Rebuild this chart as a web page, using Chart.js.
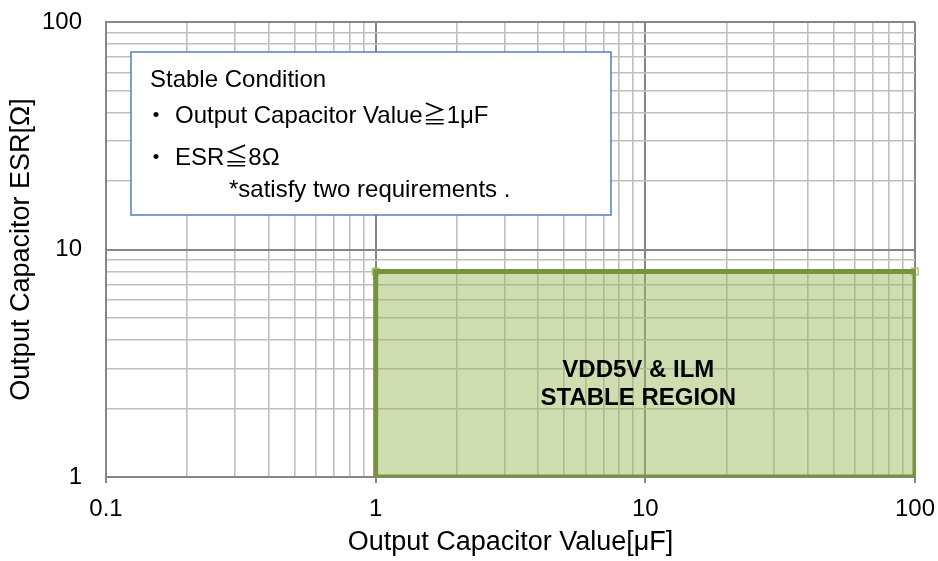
<!DOCTYPE html>
<html><head><meta charset="utf-8">
<script src="https://cdn.jsdelivr.net/npm/chart.js@4/dist/chart.umd.min.js"></script>
<style>html,body{margin:0;padding:0;background:#fff}#wrap{width:938px;height:561px}</style>
</head><body><div id="wrap"><canvas id="c" width="938" height="561"></canvas></div>
<script>
// ---- data ----
const xMajorTicks = [0.1, 1, 10, 100];
const xMajorLabels = ['0.1', '1', '10', '100'];
const yMajorTicks = [1, 10, 100];
const yMajorLabels = ['1', '10', '100'];
const minorMultipliers = [2, 3, 4, 5, 6, 7, 8, 9];

const capacitorBounds = [1, 100];   // μF, stable region x-range
const esrBounds = [1, 8];           // Ω, stable region y-range

const xTitle = 'Output Capacitor Value[μF]';
const yTitle = 'Output Capacitor ESR[Ω]';
const noteTitle = 'Stable Condition';
const noteBullets = ['Output Capacitor Value≧1μF', 'ESR≦8Ω'];
const noteFoot = '*satisfy two requirements .';
const regionLabel = ['VDD5V & ILM', 'STABLE REGION'];

// ---- helpers ----
function buildTicks(majors) {
  const out = [];
  for (let i = 0; i < majors.length; i++) {
    out.push(majors[i]);
    if (i < majors.length - 1) minorMultipliers.forEach(m => out.push(m * majors[i]));
  }
  return out;
}
const isMajor = v => Math.abs(Math.log10(v) - Math.round(Math.log10(v))) < 1e-9;
function labelFor(v, majors, labels) {
  for (let i = 0; i < majors.length; i++) if (Math.abs(v - majors[i]) < majors[i] * 1e-6) return labels[i];
  return '';
}
const xTickValues = buildTicks(xMajorTicks);
const yTickValues = buildTicks(yMajorTicks);

const FONT = "'Liberation Sans', Arial, 'Noto Sans CJK JP', sans-serif";
const MAJOR = '#868686', MINOR = '#bfbfbf';

const [cx0, cx1] = capacitorBounds;
const [ey0, ey1] = esrBounds;
const fillData = [{x: cx0, y: ey1}, {x: cx1, y: ey1}];
const borderData = [{x: cx0, y: ey0}, {x: cx0, y: ey1}, {x: cx1, y: ey1}, {x: cx1, y: ey0}, {x: cx0, y: ey0}];
const cornerData = [{x: cx0, y: ey1}, {x: cx1, y: ey1}];

const gridOpts = () => ({
  color: c => (c.tick && isMajor(c.tick.value)) ? MAJOR : MINOR,
  lineWidth: c => (c.tick && isMajor(c.tick.value)) ? 2 : 1.6,
});
const zeroPad = s => { s.paddingLeft = 0; s.paddingRight = 0; s.paddingTop = 0; s.paddingBottom = 0; };

const notePlugin = {
  id: 'notes',
  afterDatasetsDraw(chart) {
    const ctx = chart.ctx, a = chart.chartArea;
    const xs = chart.scales.x, ys = chart.scales.y;
    ctx.save();
    // text box
    const bx = a.left + 25, by = a.top + 30, bw = 480, bh = 163;
    ctx.fillStyle = '#ffffff';
    ctx.fillRect(bx, by, bw, bh);
    ctx.strokeStyle = '#4f81bd';
    ctx.lineWidth = 1.5;
    ctx.strokeRect(bx, by, bw, bh);
    ctx.fillStyle = '#000';
    ctx.font = '24px ' + FONT;
    ctx.textBaseline = 'alphabetic';
    ctx.textAlign = 'left';
    ctx.fillText(noteTitle, bx + 19, by + 35);
    const bulletY = [by + 71, by + 113];
    noteBullets.forEach((t, i) => {
      ctx.textAlign = 'center';
      ctx.fillText('・', bx + 25, bulletY[i]);
      ctx.textAlign = 'left';
      ctx.fillText(t, bx + 44, bulletY[i]);
    });
    ctx.fillText(noteFoot, bx + 98, by + 145);
    // region label
    const rx = (xs.getPixelForValue(cx0) + xs.getPixelForValue(cx1)) / 2 - 7;
    const ry = (ys.getPixelForValue(ey0) + ys.getPixelForValue(ey1)) / 2;
    ctx.font = 'bold 24px ' + FONT;
    ctx.textAlign = 'center';
    ctx.fillText(regionLabel[0], rx, ry + 3);
    ctx.fillText(regionLabel[1], rx, ry + 31);
    ctx.restore();
  }
};

new Chart(document.getElementById('c'), {
  type: 'scatter',
  data: {
    datasets: [
      { data: borderData, showLine: true, borderColor: '#77933c', borderWidth: 5,
        borderJoinStyle: 'miter', pointRadius: 0, fill: false },
      { data: cornerData, showLine: false, pointStyle: 'rect', pointRadius: 4.5,
        pointBorderColor: 'rgba(155,187,89,0.85)', pointBackgroundColor: 'rgba(0,0,0,0)',
        pointBorderWidth: 1.5, clip: false },
      { data: fillData, showLine: true, borderWidth: 0, borderColor: 'rgba(0,0,0,0)',
        pointRadius: 0, fill: {value: ey0}, backgroundColor: 'rgba(155,187,89,0.48)' }
    ]
  },
  options: {
    responsive: false, animation: false, devicePixelRatio: 1,
    layout: { padding: { top: 22, right: 23, left: 0, bottom: 0 } },
    plugins: { legend: { display: false }, tooltip: { enabled: false } },
    scales: {
      x: {
        type: 'logarithmic', position: 'bottom', min: xMajorTicks[0], max: xMajorTicks[xMajorTicks.length - 1],
        afterBuildTicks: s => { s.ticks = xTickValues.map(v => ({value: v, major: isMajor(v)})); },
        afterFit: s => { s.height = 84; zeroPad(s); },
        ticks: { autoSkip: false, maxRotation: 0, minRotation: 0, color: '#000', padding: 12,
          font: { family: FONT, size: 24 },
          callback: v => labelFor(v, xMajorTicks, xMajorLabels) },
        grid: Object.assign(gridOpts(), { drawTicks: true, tickLength: 6, tickWidth: 2,
          tickColor: c => (c.tick && isMajor(c.tick.value)) ? MAJOR : 'rgba(0,0,0,0)' }),
        border: { color: MAJOR, width: 2 },
        title: { display: true, text: xTitle, color: '#000', font: { family: FONT, size: 27 },
          padding: { top: 0, bottom: 2 } }
      },
      y: {
        type: 'logarithmic', position: 'left', min: yMajorTicks[0], max: yMajorTicks[yMajorTicks.length - 1],
        afterBuildTicks: s => { s.ticks = yTickValues.map(v => ({value: v, major: isMajor(v)})); },
        afterFit: s => { s.width = 106; zeroPad(s); },
        ticks: { autoSkip: false, color: '#000', padding: 24,
          font: { family: FONT, size: 24 },
          callback: v => labelFor(v, yMajorTicks, yMajorLabels) },
        grid: Object.assign(gridOpts(), { drawTicks: false }),
        border: { color: MAJOR, width: 2 },
        title: { display: true, text: yTitle, color: '#000', font: { family: FONT, size: 27 },
          padding: { top: 5, bottom: 0 } }
      }
    }
  },
  plugins: [notePlugin]
});
</script>
</body></html>
